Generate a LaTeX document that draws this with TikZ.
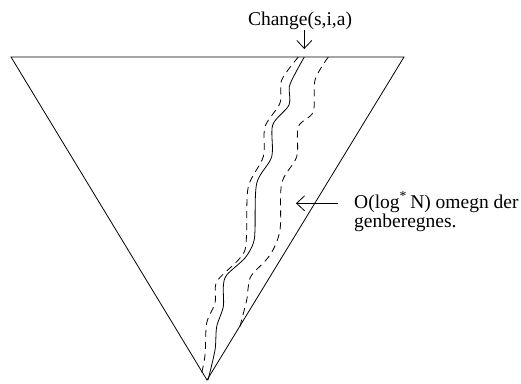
\documentclass[tikz,border=0pt]{standalone}
\usepackage{fontspec}
\setmainfont{Liberation Serif}
\usetikzlibrary{arrows.meta}
\begin{document}
\begin{tikzpicture}[x=1pt,y=-1pt,
  edge/.style={line width=0.8pt},
  wave/.style={line width=0.8pt},
  dwave/.style={line width=0.8pt,dash pattern=on 7pt off 5pt},
  ptr/.style={line width=0.8pt,-{Straight Barb[length=8pt,width=15pt,line width=0.8pt]}},
  lbl/.style={font=\fontsize{19.5}{19.5}\selectfont,inner sep=0pt}]
\useasboundingbox (0,0) rectangle (521,383);
\coordinate (tl) at (11,57);
\coordinate (tr) at (404,57);
\coordinate (bt) at (207,380);
\draw[edge] (tl) -- (tr) -- (bt) -- cycle;
% solid wavy path
\draw[wave] plot[smooth,tension=0.5] coordinates {(304.3,57) (296,72) (289.3,86.7) (289,105) (272.7,125) (271.7,156.7) (256.7,183.3) (255,230) (253.3,243.3) (245,258) (226.7,275) (223.3,286.7) (223.3,306.7) (216.7,326.7) (215,350) (208,380)};
% dashed left
\draw[dwave] plot[smooth,tension=0.5] coordinates {(298.3,57) (281.7,80) (280,103) (265,126.7) (263.3,156.7) (248.3,186.7) (246.7,230) (245,250) (236.7,261.7) (216.7,281.7) (215,303) (206.7,323) (205,355) (201.7,373)};
% dashed right
\draw[dwave] plot[smooth,tension=0.5] coordinates {(328.3,57) (315,80) (313.3,111.7) (298.3,126.7) (296.7,156.7) (281.7,183.3) (280,230) (270,255) (251.7,275) (248.3,286.7) (246.7,300) (239,330)};
\node[lbl,anchor=base] (chg) at (300,25) {Change(s,i,a)};
\coordinate (chgtip) at (304.3,49);
\draw[ptr] ([yshift=-1pt]chg.south -| chgtip) -- (chgtip);
\node[lbl,anchor=west,align=left] (note) at (354,212) {O(log\textsuperscript{*}\,N) omegn der\\genberegnes.};
\coordinate (notetip) at (296,203.3);
\draw[ptr] (note.west |- notetip) ++(-16,0) -- (notetip);
\end{tikzpicture}
\end{document}
